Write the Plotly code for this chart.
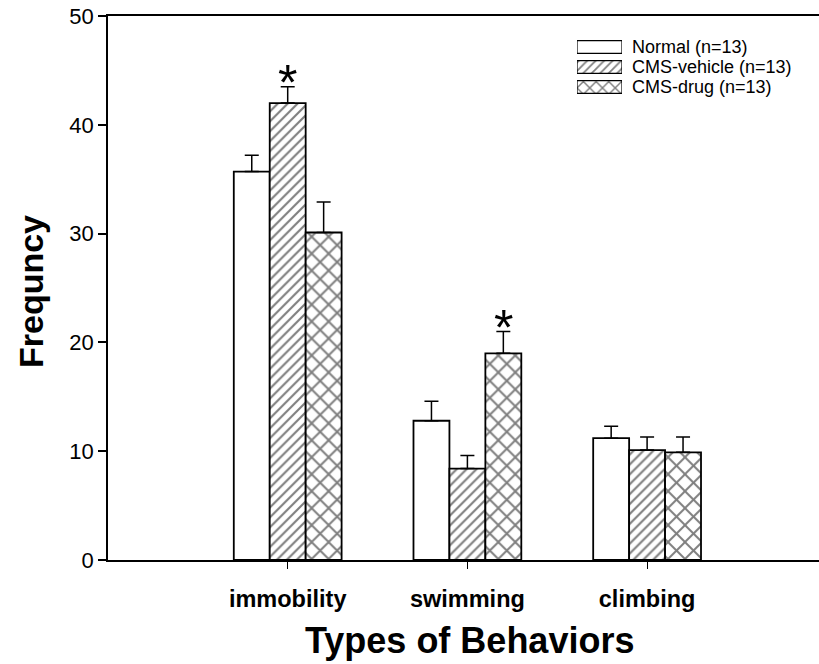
import plotly.graph_objects as go

# Behaviour categories (forced swim test) and group means with upper SEM
behaviors = ["immobility", "swimming", "climbing"]
groups = ["Normal (n=13)", "CMS-vehicle (n=13)", "CMS-drug (n=13)"]

normal_mean = [35.7, 12.8, 11.2]
normal_top = [37.2, 14.6, 12.3]
vehicle_mean = [42.0, 8.4, 10.1]
vehicle_top = [43.5, 9.6, 11.3]
drug_mean = [30.1, 19.0, 9.9]
drug_top = [32.9, 21.0, 11.3]

y_ticks = [0, 10, 20, 30, 40, 50]

FONT = "Liberation Sans, Arial, Helvetica, sans-serif"

W, H = 819, 664
ML, MR, MT, MB = 108, 0, 16, 104
PW, PH = W - ML - MR, H - MT - MB

xpos = [1, 2, 3]
bar_w = 0.2

means = [normal_mean, vehicle_mean, drug_mean]
tops = [normal_top, vehicle_top, drug_top]
shapes_pat = ["", "/", "x"]
pat_size = [8, 7, 12]
offsets = [-bar_w, 0.0, bar_w]

fig = go.Figure()

for g, name in enumerate(groups):
    m = means[g]
    t = tops[g]
    fig.add_trace(go.Bar(
        x=[p + offsets[g] for p in xpos],
        y=m,
        width=bar_w,
        name=name,
        showlegend=False,
        marker=dict(
            color="white",
            line=dict(color="black", width=1.8),
            pattern=dict(shape=shapes_pat[g], fgcolor="black", bgcolor="white",
                         size=pat_size[g], solidity=0.3, fillmode="overlay"),
        ),
        error_y=dict(type="data", symmetric=False,
                     array=[tt - mm for tt, mm in zip(t, m)],
                     arrayminus=[0] * len(m),
                     color="black", thickness=1.5, width=7),
    ))

# Custom legend swatches drawn as horizontal bars on an overlay axis
fig.add_trace(go.Bar(
    x=[1, 1, 1], y=[0, 1, 2], orientation="h", width=0.64,
    showlegend=False, hoverinfo="skip",
    marker=dict(
        color="white",
        line=dict(color="black", width=1.2),
        pattern=dict(shape=shapes_pat, fgcolor="black", bgcolor="white",
                     size=[8, 6, 9], solidity=0.3, fillmode="overlay"),
    ),
    xaxis="x2", yaxis="y2",
))

def px_x(px):
    return (px - ML) / PW

def px_y(py):
    return (MT + PH - py) / PH

leg_rows = [47, 67, 87]
annotations = []
for name, py in zip(groups, leg_rows):
    annotations.append(dict(
        x=px_x(630), y=px_y(py), xref="paper", yref="paper",
        text=name, showarrow=False, xanchor="left", yanchor="middle",
        font=dict(family=FONT, size=18, color="black"),
    ))

# Significance markers
annotations.append(dict(x=xpos[0] + offsets[1], y=vehicle_top[0], xref="x", yref="y",
                        text="*", showarrow=False, yanchor="bottom", yshift=-26,
                        font=dict(family=FONT, size=50, color="black")))
annotations.append(dict(x=xpos[1] + offsets[2], y=drug_top[1], xref="x", yref="y",
                        text="*", showarrow=False, yanchor="bottom", yshift=-26,
                        font=dict(family=FONT, size=50, color="black")))

# Axis titles
annotations.append(dict(x=px_x(31), y=px_y(292), xref="paper", yref="paper",
                        text="<b>Frequncy</b>", showarrow=False, textangle=-90,
                        xanchor="center", yanchor="middle",
                        font=dict(family=FONT, size=34, color="black")))
annotations.append(dict(x=px_x(469), y=px_y(640), xref="paper", yref="paper",
                        text="<b>Types of Behaviors</b>", showarrow=False,
                        xanchor="center", yanchor="middle",
                        font=dict(family=FONT, size=36, color="black")))

fig.update_layout(
    width=W, height=H,
    margin=dict(l=ML, r=MR, t=MT, b=MB),
    plot_bgcolor="white", paper_bgcolor="white",
    barmode="overlay",
    annotations=annotations,
    font=dict(family=FONT, color="black"),
    xaxis=dict(
        range=[0, PW / 179.7],
        tickmode="array", tickvals=xpos,
        ticktext=[f"<b>{b}</b>" for b in behaviors],
        tickfont=dict(family=FONT, size=23.5, color="black"),
        ticks="outside", ticklen=7, tickwidth=1, tickcolor="black",
        ticklabelstandoff=10,
        showline=True, linecolor="black", linewidth=1.5, mirror=True,
        showgrid=False, zeroline=False,
    ),
    yaxis=dict(
        range=[0, 50],
        tickmode="array", tickvals=y_ticks,
        tickfont=dict(family=FONT, size=22, color="black"),
        ticks="outside", ticklen=8, tickwidth=1.5, tickcolor="black",
        showline=True, linecolor="black", linewidth=1.5,
        showgrid=False, zeroline=False,
    ),
    xaxis2=dict(domain=[px_x(577), px_x(622)], range=[0, 1], anchor="y2",
                visible=False, fixedrange=True),
    yaxis2=dict(domain=[px_y(97), px_y(37)], range=[2.5, -0.5], anchor="x2",
                visible=False, fixedrange=True),
)

fig.write_html("out.html")
